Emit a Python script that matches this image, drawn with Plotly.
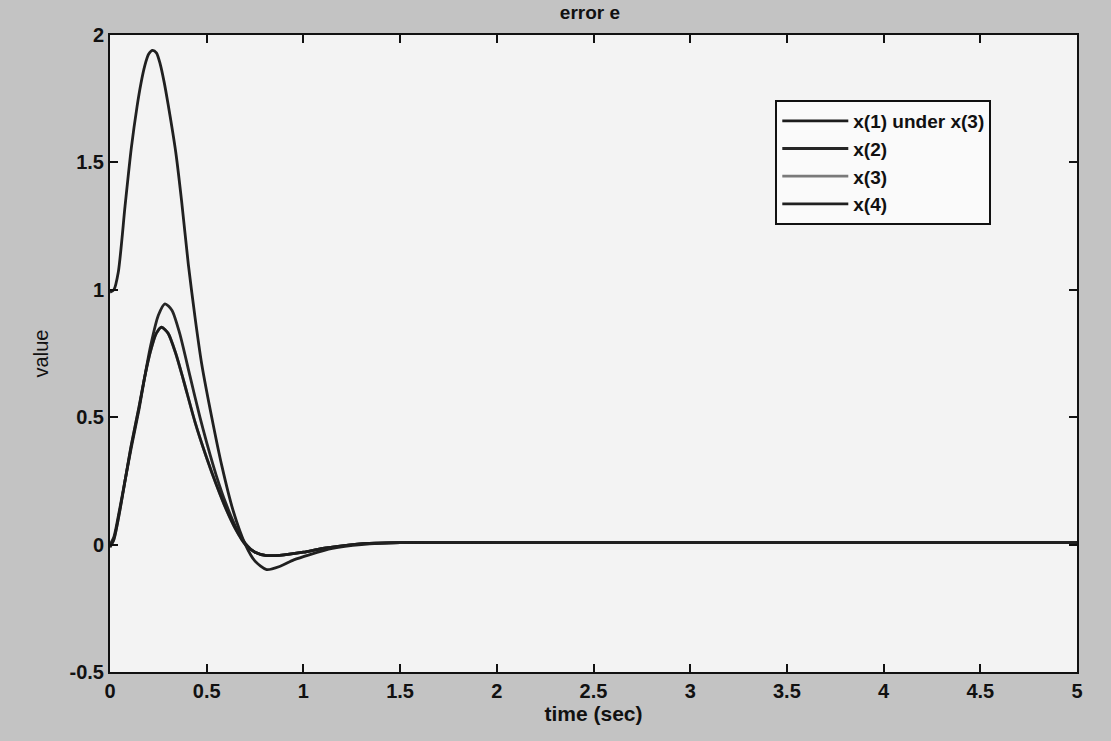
import plotly.graph_objects as go

# ---- data ----
t_x4 = [0, 0.02, 0.043, 0.078, 0.11, 0.14, 0.16, 0.18, 0.20, 0.22, 0.24, 0.26, 0.28,
        0.30, 0.34, 0.37, 0.405, 0.44, 0.474, 0.526, 0.578, 0.638, 0.70, 0.75, 0.81,
        0.88, 0.95, 1.03, 1.15, 1.30, 1.50, 2.0, 3.0, 4.0, 5.0]
y_x4 = [0.99, 1.0, 1.07, 1.33, 1.555, 1.72, 1.81, 1.88, 1.925, 1.94, 1.93, 1.885, 1.815,
        1.73, 1.54, 1.35, 1.10, 0.89, 0.71, 0.50, 0.31, 0.13, 0.0, -0.065, -0.098,
        -0.085, -0.06, -0.04, -0.015, 0.0, 0.008, 0.008, 0.008, 0.008, 0.008]

t_x2 = [0, 0.02, 0.05, 0.08, 0.11, 0.15, 0.18, 0.21, 0.25, 0.284, 0.32, 0.36, 0.414,
        0.465, 0.50, 0.55, 0.60, 0.65, 0.70, 0.75, 0.81, 0.90, 1.0, 1.1, 1.2, 1.33,
        1.5, 2.0, 3.0, 4.0, 5.0]
y_x2 = [0.0, 0.03, 0.14, 0.26, 0.38, 0.53, 0.66, 0.78, 0.90, 0.945, 0.92, 0.83, 0.66,
        0.50, 0.40, 0.27, 0.16, 0.07, 0.005, -0.03, -0.043, -0.04, -0.03, -0.015, -0.005, 0.005,
        0.008, 0.008, 0.008, 0.008, 0.008]

t_x13 = [0, 0.02, 0.05, 0.08, 0.11, 0.15, 0.18, 0.21, 0.24, 0.267, 0.30, 0.34, 0.38,
         0.44, 0.50, 0.55, 0.60, 0.65, 0.70, 0.75, 0.81, 0.90, 1.0, 1.1, 1.2, 1.33,
         1.5, 2.0, 3.0, 4.0, 5.0]
y_x13 = [-0.01, 0.02, 0.13, 0.26, 0.39, 0.54, 0.66, 0.76, 0.83, 0.853, 0.83, 0.75, 0.645,
         0.48, 0.34, 0.235, 0.14, 0.06, 0.0, -0.03, -0.043, -0.04, -0.03, -0.015, -0.005, 0.005,
         0.008, 0.008, 0.008, 0.008, 0.008]

names = ["x(1) under x(3)", "x(2)", "x(3)", "x(4)"]
colors = ["#1c1c1c", "#262626", "#7a7a7a", "#202020"]
x_ticks = [0, 0.5, 1, 1.5, 2, 2.5, 3, 3.5, 4, 4.5, 5]
x_tick_text = ["0", "0.5", "1", "1.5", "2", "2.5", "3", "3.5", "4", "4.5", "5"]
y_ticks = [-0.5, 0, 0.5, 1, 1.5, 2]
y_tick_text = ["-0.5", "0", "0.5", "1", "1.5", "2"]

series = {
    "x(1) under x(3)": (t_x13, y_x13),
    "x(2)": (t_x2, y_x2),
    "x(3)": (t_x13, y_x13),
    "x(4)": (t_x4, y_x4),
}
# draw x(3) first so the dark x(1) trace lies on it; legend keeps x(1)..x(4) order
draw_order = ["x(3)", "x(2)", "x(1) under x(3)", "x(4)"]

fig = go.Figure()
for nm in draw_order:
    i = names.index(nm)
    tt, yy = series[nm]
    fig.add_trace(go.Scatter(
        x=tt, y=yy, mode="lines", name=nm, legendrank=i + 1,
        line=dict(color=colors[i], width=2.8, shape="spline", smoothing=0.7),
    ))

font_main = "Liberation Sans, Arial, sans-serif"

fig.update_layout(
    width=1111, height=741,
    paper_bgcolor="#c3c3c3",
    plot_bgcolor="#f3f3f3",
    margin=dict(l=110, r=34, t=35, b=69),
    title=dict(text="error e", x=0.531, xanchor="center", y=0.984, yanchor="middle",
               font=dict(family=font_main, size=19, color="#111111", weight="bold")),
    showlegend=True,
    legend=dict(
        x=0.688, y=0.898, xanchor="left", yanchor="top",
        bgcolor="#fafafa", bordercolor="#111111", borderwidth=2,
        font=dict(family=font_main, size=19, color="#111111", weight="bold"),
        tracegroupgap=0, itemwidth=66,
    ),
    font=dict(family=font_main, color="#111111"),
)

fig.update_xaxes(
    range=[0, 5], tickvals=x_ticks, ticktext=x_tick_text,
    showgrid=False, zeroline=False,
    showline=True, linecolor="#111111", linewidth=2, mirror="ticks",
    ticks="inside", ticklen=8, tickwidth=1.5, tickcolor="#111111",
    tickfont=dict(family=font_main, size=20, color="#111111", weight="bold"),
    title=dict(text="time (sec)",
               font=dict(family=font_main, size=21, color="#111111", weight="bold"),
               standoff=4),
)
fig.update_yaxes(
    range=[-0.5, 2], tickvals=y_ticks, ticktext=y_tick_text,
    showgrid=False, zeroline=False,
    showline=True, linecolor="#111111", linewidth=2, mirror="ticks",
    ticks="inside", ticklen=8, tickwidth=1.5, tickcolor="#111111",
    tickfont=dict(family=font_main, size=20, color="#111111", weight="bold"),
    title=dict(text="value", font=dict(family=font_main, size=20, color="#111111"),
               standoff=16),
)

fig.write_html(
    "out.html",
    config={"displayModeBar": False},
    post_script="document.body.style.margin='0';document.body.style.background='#c3c3c3';",
)
